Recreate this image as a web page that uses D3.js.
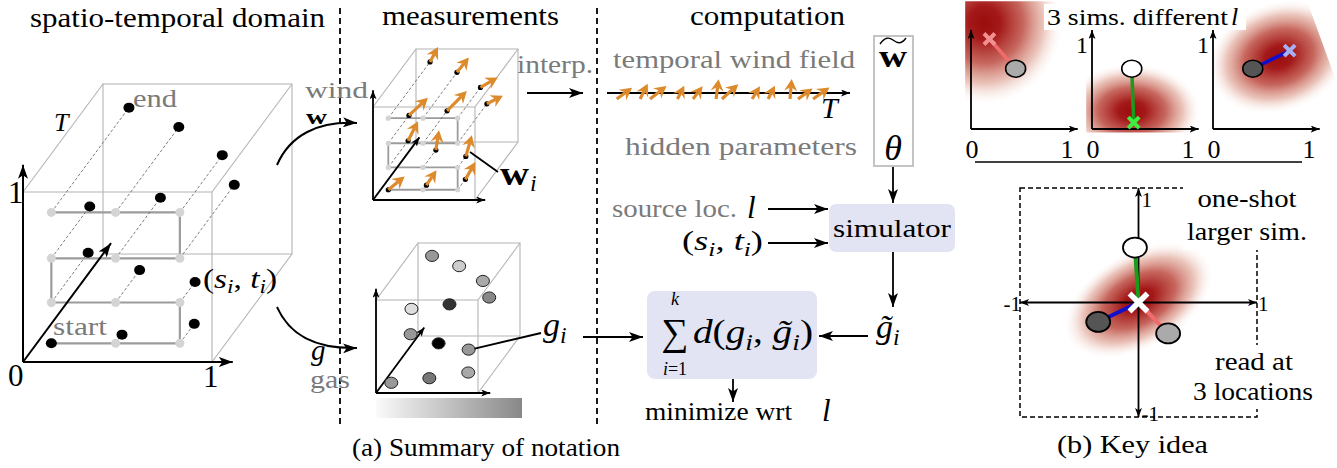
<!DOCTYPE html>
<html>
<head>
<meta charset="utf-8">
<script src="https://cdn.jsdelivr.net/npm/d3@7"></script>
<style>body{margin:0;background:#fff}svg{display:block}</style>
</head>
<body>
<script>
// measurements along the snake path: position in the unit cube (x, z) and time t
const measX = [0.15, 0.49, 0.83, 0.83, 0.49, 0.15, 0.15, 0.49, 0.83, 0.83, 0.49, 0.15];
const measZ = [0.11, 0.11, 0.11, 0.35, 0.35, 0.35, 0.61, 0.61, 0.61, 0.88, 0.88, 0.88];
const measT = [0, 0.08, 0.18, 0.19, 0.30, 0.46, 0.48, 0.56, 0.68, 0.53, 0.79, 0.97];
const gasLevel = [0.36, 0.5, 0.29, 0.36, 1, 0.36, 0.07, 0.79, 0.43, 0.29, 0.14, 0.36];
const windAngle = [39, 56, 60, 74, 81, 63, 43, 45, 27, 30, 51, 62];
const windLen = [21, 18, 20, 22, 20, 22, 26, 28, 18, 20, 19, 17];

// interpolated temporal wind field
const fieldT = [0.04, 0.136, 0.177, 0.29, 0.354, 0.449, 0.473, 0.597, 0.663, 0.753, 0.786, 0.848];
const fieldAngle = [36, 63, 38, 63, 53, 83, 42, 58, 63, 85, 36, 35];
const fieldLen = [19, 17, 21, 15, 16, 20, 22, 15, 15, 20, 18, 20];

// key idea: 3 small sims (source l, sensor) and the one-shot large sim
const simSrc = [[0.19, 1.0], [0.43, 0.07], [0.79, 0.87]];
const simObs = [[0.46, 0.67], [0.41, 0.67], [0.41, 0.67]];
const plumeC = [[0.14, 1.18], [0.41, 0.2], [0.68, 0.8]];
const plumeR = [[0.8, 0.9], [0.7, 0.52], [0.74, 0.6]];
const plumeAngle = [0, 0, -20];
const obsRel = [[0.25, -0.27], [-0.03, 0.48], [-0.34, -0.17]];
const bigPlume = {c: [0, 0.02], r: [0.68, 0.4], angle: -30};

const obsFill = ["#aaaaaa", "#ffffff", "#555555"];
const lineCol = ["#f06c6c", "#1a9c1a", "#1010cc"];
const crossCol = ["#f29090", "#40ee40", "#a8b0f2"];

const serif = "'Liberation Serif', serif";
const grey = "#7a7a7a";
const orange = "#dd8a2c";
const lav = "#e2e4f4";

const svg = d3.select("body").append("svg").attr("width", 1337).attr("height", 468);
const defs = svg.append("defs");

function marker(id, len, wid) {
  defs.append("marker").attr("id", id)
    .attr("viewBox", `0 0 ${len} ${wid}`).attr("refX", len).attr("refY", wid / 2)
    .attr("markerWidth", len).attr("markerHeight", wid)
    .attr("markerUnits", "userSpaceOnUse").attr("orient", "auto-start-reverse")
    .append("path").attr("d", `M0,0L${len},${wid / 2}L0,${wid}L${len * 0.25},${wid / 2}Z`).attr("fill", "#000");
}
marker("ah", 14, 10);
marker("ahs", 9, 7);

// plume gradient
const rg = defs.append("radialGradient").attr("id", "plume");
[[0, "#990d0d", 1], [0.2, "#a31818", 1], [0.5, "#bf5248", 0.88], [0.75, "#dc9a8a", 0.6], [1, "#f8e8e0", 0]]
  .forEach(s => rg.append("stop").attr("offset", s[0]).attr("stop-color", s[1]).attr("stop-opacity", s[2]));
const lg = defs.append("linearGradient").attr("id", "gasbar");
lg.append("stop").attr("offset", 0).attr("stop-color", "#fafafa");
lg.append("stop").attr("offset", 1).attr("stop-color", "#888888");

function arrow(g, pts, m = "ah", w = 1.8, both = false) {
  const p = g.append("path").attr("d", d3.line()(pts)).attr("fill", "none")
    .attr("stroke", "#000").attr("stroke-width", w).attr("marker-end", `url(#${m})`);
  if (both) p.attr("marker-start", `url(#${m})`);
  return p;
}

function txt(g, s, x, y, o = {}) {
  const t = g.append("text").attr("x", x).attr("y", y).text(s)
    .attr("font-family", o.family || serif).attr("font-size", o.size || 25)
    .attr("fill", o.fill || "#000").attr("text-anchor", o.anchor || "start");
  if (o.italic) t.attr("font-style", "italic");
  if (o.bold) t.attr("font-weight", "bold");
  if (o.w) t.attr("textLength", o.w).attr("lengthAdjust", "spacingAndGlyphs");
  return t;
}

// label with italic letters and subscripts; parts: [text, italic, sub]
function mathTxt(g, parts, x, y, size, o = {}) {
  const t = g.append("text").attr("x", x).attr("y", y).attr("font-family", serif)
    .attr("font-size", size).attr("text-anchor", o.anchor || "start");
  let down = false;
  parts.forEach(([s, it, sub]) => {
    const sp = t.append("tspan").text(s);
    if (it) sp.attr("font-style", "italic");
    if (sub && !down) { sp.attr("font-size", size * 0.7).attr("dy", size * 0.2); down = true; }
    else if (sub) sp.attr("font-size", size * 0.7);
    else if (down) { sp.attr("dy", -size * 0.2); down = false; }
  });
  if (o.w) t.attr("textLength", o.w).attr("lengthAdjust", "spacingAndGlyphs");
  return t;
}

function windArrow(g, x, y, ang, len) {
  const a = ang * Math.PI / 180, ux = Math.cos(a), uy = -Math.sin(a), nx = -uy, ny = ux;
  const tx = x + len * ux, ty = y + len * uy, h = 12, hw = 6.5;
  const bx = tx - h * ux, by = ty - h * uy, kx = tx - (h - 4) * ux, ky = ty - (h - 4) * uy;
  g.append("path").attr("d", `M${x},${y}L${kx},${ky}`).attr("stroke", orange).attr("stroke-width", 3.2);
  g.append("path").attr("d", `M${tx},${ty}L${bx + hw * nx},${by + hw * ny}L${kx},${ky}L${bx - hw * nx},${by - hw * ny}Z`)
    .attr("fill", orange);
}

function cube(g, c) {
  const X = d3.scaleLinear([0, 1], [c.x0, c.x0 + c.w]);
  const Z = d3.scaleLinear([0, 1], [c.y0, c.y0 - c.h]);
  const P = (x, z, t) => [X(x) + t * c.dx, Z(z) + t * c.dy];
  const sq = t => [P(0, 0, t), P(1, 0, t), P(1, 1, t), P(0, 1, t), P(0, 0, t)];
  const e = g.append("g").attr("fill", "none").attr("stroke", "#b4b4b4").attr("stroke-width", 1.1);
  e.append("path").attr("d", d3.line()(sq(1)));
  e.append("path").attr("d", d3.line()(sq(0)));
  [[0, 0], [1, 0], [1, 1], [0, 1]].forEach(([x, z]) => e.append("path").attr("d", d3.line()([P(x, z, 0), P(x, z, 1)])));
  return P;
}
function cubeAxes(g, P, ax, m, w) {
  arrow(g, [P(0, 0, 0), P(ax[0], 0, 0)], m, w);
  arrow(g, [P(0, 0, 0), P(0, ax[1], 0)], m, w);
  arrow(g, [P(0, 0, 0), P(0, 0, ax[2])], m, w);
}
const idx = d3.range(measX.length);
function snake(g, P, lw, r) {
  g.append("path").attr("d", d3.line()(idx.map(i => P(measX[i], measZ[i], 0))))
    .attr("fill", "none").attr("stroke", "#9c9c9c").attr("stroke-width", lw);
  g.selectAll(null).data(idx).join("path")
    .attr("d", i => d3.line()([P(measX[i], measZ[i], 0), P(measX[i], measZ[i], measT[i])]))
    .attr("stroke", "#707070").attr("stroke-width", 0.9).attr("stroke-dasharray", "3,2");
  g.selectAll(null).data(idx).join("circle")
    .attr("cx", i => P(measX[i], measZ[i], 0)[0]).attr("cy", i => P(measX[i], measZ[i], 0)[1])
    .attr("r", r).attr("fill", "#d4d4d4");
}

// ---------- separators ----------
[340, 597].forEach(x => svg.append("line").attr("x1", x).attr("x2", x).attr("y1", 8).attr("y2", 425)
  .attr("stroke", "#000").attr("stroke-width", 1.8).attr("stroke-dasharray", "6,4"));

// ---------- panel 1: spatio-temporal domain ----------
const g1 = svg.append("g");
txt(g1, "spatio-temporal domain", 30, 27, {size: 27, w: 295});
const P1 = cube(g1, {x0: 23, y0: 362, w: 189, h: 170, dx: 80, dy: -108});
snake(g1, P1, 2.2, 4.5);
cubeAxes(g1, P1, [1.11, 1.16, 1.1], "ah", 2);
g1.selectAll(null).data(idx).join("ellipse")
  .attr("cx", i => P1(measX[i], measZ[i], measT[i])[0]).attr("cy", i => P1(measX[i], measZ[i], measT[i])[1])
  .attr("rx", 5.5).attr("ry", 5).attr("fill", "#000");
txt(g1, "end", 133, 107, {fill: grey, w: 44});
txt(g1, "start", 53, 335, {fill: grey, w: 54});
txt(g1, "T", 54, 131, {size: 26, italic: true});
txt(g1, "1", 8, 203, {size: 31});
txt(g1, "0", 8, 386, {size: 31});
txt(g1, "1", 203, 387, {size: 31});
mathTxt(g1, [["("], ["s", 1], ["i", 1, 1], [", "], ["t", 1], ["i", 1, 1], [")"]], 203, 288, 27, {w: 74});

// curved arrows into measurements
[[[277, 165], [290, 135], [318, 121], [357, 123]], [[277, 307], [290, 336], [316, 349], [357, 348]]].forEach(c => {
  svg.append("path").attr("d", `M${c[0]}C${c[1]} ${c[2]} ${c[3]}`).attr("fill", "none")
    .attr("stroke", "#000").attr("stroke-width", 2).attr("marker-end", "url(#ah)");
});
txt(svg, "wind", 305, 98, {fill: grey, size: 24, w: 63});
txt(svg, "w", 306, 124, {bold: true, size: 22, w: 21});
txt(svg, "g", 311, 360, {italic: true, size: 29});
txt(svg, "gas", 310, 388, {fill: grey, w: 40});

// ---------- panel 2: measurements ----------
const g2 = svg.append("g");
txt(g2, "measurements", 382, 25, {size: 27, w: 177});
const P2 = cube(g2, {x0: 373, y0: 200, w: 102, h: 93, dx: 43, dy: -58});
snake(g2, P2, 1.8, 2.6);
cubeAxes(g2, P2, [1.1, 1.18, 1.08], "ahs", 1.8);
idx.forEach(i => {
  const [x, y] = P2(measX[i], measZ[i], measT[i]);
  g2.append("circle").attr("cx", x).attr("cy", y).attr("r", 2.6).attr("fill", "#000");
  windArrow(g2, x, y, windAngle[i], windLen[i]);
});
g2.append("line").attr("x1", 470).attr("y1", 152).attr("x2", 498).attr("y2", 172).attr("stroke", "#000").attr("stroke-width", 1.8);
txt(g2, "w", 500, 185, {bold: true, size: 34, w: 29});
txt(g2, "i", 530, 191, {italic: true, size: 24});
txt(g2, "interp.", 517, 73, {fill: grey, w: 76});
arrow(g2, [[527, 93], [583, 93]]);

const P3 = cube(g2, {x0: 376, y0: 393, w: 102, h: 93, dx: 42, dy: -57});
cubeAxes(g2, P3, [1.12, 1.12, 1.15], "ahs", 1.8);
const gasColor = d3.scaleLinear([0, 1], ["#eeeeee", "#000000"]);
g2.selectAll(null).data(idx).join("ellipse")
  .attr("cx", i => P3(measX[i], measZ[i], measT[i])[0]).attr("cy", i => P3(measX[i], measZ[i], measT[i])[1])
  .attr("rx", 6.5).attr("ry", 5.6).attr("fill", i => gasColor(gasLevel[i]))
  .attr("stroke", "#222").attr("stroke-width", 1);
g2.append("rect").attr("x", 376).attr("y", 398).attr("width", 146).attr("height", 20).attr("fill", "url(#gasbar)");
const gi = P3(measX[3], measZ[3], measT[3]);
g2.append("line").attr("x1", gi[0] + 6).attr("y1", gi[1] - 1).attr("x2", 541).attr("y2", 333).attr("stroke", "#000").attr("stroke-width", 1.8);
mathTxt(g2, [["g", 1], ["i", 1, 1]], 543, 336, 34);
arrow(g2, [[583, 337], [643, 337]]);

// ---------- panel 3: computation ----------
const g3 = svg.append("g");
txt(g3, "computation", 690, 25, {size: 27, w: 155});
txt(g3, "temporal wind field", 613, 68, {fill: grey, w: 242});
const tS = d3.scaleLinear([0, 1], [607, 850]);
arrow(g3, [[tS(0), 93], [tS(1), 93]], "ahs", 1.8);
fieldT.forEach((t, i) => windArrow(g3, tS(t), 99, fieldAngle[i], fieldLen[i]));
txt(g3, "T", 821, 118, {italic: true, size: 30});
txt(g3, "hidden parameters", 625, 155, {fill: grey, w: 232});
g3.append("rect").attr("x", 874).attr("y", 36).attr("width", 39).attr("height", 130)
  .attr("fill", "none").attr("stroke", "#c4c4c4").attr("stroke-width", 2);
txt(g3, "w", 893, 67, {bold: true, size: 32, anchor: "middle", w: 28});
g3.append("path").attr("d", "M880,44C885,37 889,37 893,40S901,45 906,38").attr("fill", "none").attr("stroke", "#000").attr("stroke-width", 1.4);
txt(g3, "θ", 893, 160, {italic: true, size: 36, anchor: "middle"});
arrow(g3, [[893, 167], [893, 203]]);
txt(g3, "source loc.", 612, 217, {fill: grey, w: 125});
txt(g3, "l", 747, 218, {italic: true, size: 31});
arrow(g3, [[768, 209], [828, 209]]);
mathTxt(g3, [["("], ["s", 1], ["i", 1, 1], [", "], ["t", 1], ["i", 1, 1], [")"]], 682, 250, 28, {w: 81});
arrow(g3, [[768, 243], [828, 243]]);
g3.append("rect").attr("x", 829).attr("y", 204).attr("width", 126).attr("height", 48).attr("rx", 7).attr("fill", lav);
txt(g3, "simulator", 892, 237, {anchor: "middle", w: 118});
arrow(g3, [[893, 252], [893, 307]]);
mathTxt(g3, [["g\u0303", 1], ["i", 1, 1]], 876, 338, 34);
arrow(g3, [[868, 336], [819, 336]]);
g3.append("rect").attr("x", 647).attr("y", 291).attr("width", 170).attr("height", 88).attr("rx", 8).attr("fill", lav);
txt(g3, "∑", 675, 345, {size: 38, anchor: "middle"});
txt(g3, "k", 675, 305, {size: 18, italic: true, anchor: "middle"});
mathTxt(g3, [["i", 1], ["=1"]], 675, 375, 18, {anchor: "middle"});
mathTxt(g3, [["d", 1], ["("], ["g", 1], ["i", 1, 1], [", "], ["g\u0303", 1], ["i", 1, 1], [")"]], 693, 343, 33, {w: 120});
arrow(g3, [[733, 379], [733, 402]]);
txt(g3, "minimize wrt", 645, 420, {w: 147});
txt(g3, "l", 822, 421, {italic: true, size: 31});

txt(svg, "(a) Summary of notation", 352, 456, {size: 26, w: 268});
txt(svg, "(b) Key idea", 1057, 453, {size: 26, w: 151});

// ---------- panel b: key idea ----------
const g4 = svg.append("g");
const ox = [971, 1092, 1213];
function cross(g, x, y, s, col, w) {
  g.append("path").attr("d", `M${x - s},${y - s}L${x + s},${y + s}M${x - s},${y + s}L${x + s},${y - s}`)
    .attr("stroke", col).attr("stroke-width", w);
}
ox.forEach((o, k) => {
  const x = d3.scaleLinear([0, 1], [o, o + 97]);
  const y = d3.scaleLinear([0, 1], [129, 39]);
  const g = g4.append("g");
  defs.append("clipPath").attr("id", "clip" + k).append("rect")
    .attr("x", x(-0.06)).attr("y", y(1.42)).attr("width", x(1.15) - x(-0.06)).attr("height", y(-0.04) - y(1.42));
  const [cx, cy] = [x(plumeC[k][0]), y(plumeC[k][1])];
  g.append("ellipse").attr("clip-path", `url(#clip${k})`)
    .attr("cx", cx).attr("cy", cy)
    .attr("rx", x(plumeR[k][0]) - x(0)).attr("ry", y(0) - y(plumeR[k][1]))
    .attr("transform", `rotate(${plumeAngle[k]},${cx},${cy})`).attr("fill", "url(#plume)");
  arrow(g, [[x(0), y(0)], [x(1.1), y(0)]], "ahs", 1.8);
  arrow(g, [[x(0), y(0)], [x(0), y(1.1)]], "ahs", 1.8);
  const s = [x(simSrc[k][0]), y(simSrc[k][1])], b = [x(simObs[k][0]), y(simObs[k][1])];
  g.append("line").attr("x1", s[0]).attr("y1", s[1]).attr("x2", b[0]).attr("y2", b[1]).attr("stroke", lineCol[k]).attr("stroke-width", 3.5);
  cross(g, s[0], s[1], 5.5, crossCol[k], 4);
  g.append("ellipse").attr("cx", b[0]).attr("cy", b[1]).attr("rx", 10).attr("ry", 8.5)
    .attr("fill", obsFill[k]).attr("stroke", "#000").attr("stroke-width", 1.6);
  txt(g, "0", x(0) + 1, 158, {size: 26, anchor: "middle"});
  txt(g, "1", x(1) - 1, 158, {size: 26, anchor: "middle"});
  if (k > 0) txt(g, "1", x(0) - 10, y(1) + 14, {size: 24, anchor: "middle"});
});
g4.append("rect").attr("x", 1044).attr("y", 4).attr("width", 202).attr("height", 26).attr("fill", "#fff");
txt(g4, "3 sims. different", 1047, 25, {size: 24, w: 181});
txt(g4, "l", 1231, 25, {italic: true, size: 26});
g4.append("line").attr("x1", 975).attr("x2", 1302).attr("y1", 162).attr("y2", 162).attr("stroke", "#000").attr("stroke-width", 1.6);

const bx = d3.scaleLinear([-1, 1], [1020, 1257]);
const by = d3.scaleLinear([-1, 1], [417, 188]);
g4.append("rect").attr("x", bx(-1)).attr("y", by(1)).attr("width", bx(1) - bx(-1)).attr("height", by(-1) - by(1))
  .attr("fill", "none").attr("stroke", "#000").attr("stroke-width", 1.5).attr("stroke-dasharray", "5,3");
const bc = [bx(bigPlume.c[0]), by(bigPlume.c[1])];
g4.append("ellipse").attr("cx", bc[0]).attr("cy", bc[1])
  .attr("rx", bx(bigPlume.r[0]) - bx(0)).attr("ry", bx(bigPlume.r[1]) - bx(0))
  .attr("transform", `rotate(${bigPlume.angle},${bc[0]},${bc[1]})`).attr("fill", "url(#plume)");
arrow(g4, [[bx(-1), by(0)], [bx(1), by(0)]], "ahs", 1.8, true);
arrow(g4, [[bx(0), by(-1)], [bx(0), by(1)]], "ahs", 1.8, true);
obsRel.forEach((p, k) => {
  g4.append("line").attr("x1", bx(0)).attr("y1", by(0)).attr("x2", bx(p[0])).attr("y2", by(p[1]))
    .attr("stroke", lineCol[k]).attr("stroke-width", 4);
});
obsRel.forEach((p, k) => {
  g4.append("ellipse").attr("cx", bx(p[0])).attr("cy", by(p[1])).attr("rx", 12).attr("ry", 10)
    .attr("fill", obsFill[k]).attr("stroke", "#000").attr("stroke-width", 1.8);
});
cross(g4, bx(0), by(0), 9, "#fff", 5.5);
txt(g4, "1", bx(0) + 3, 207, {size: 21});
txt(g4, "-1", bx(-1) + 1, 311, {size: 21, anchor: "end"});
txt(g4, "1", bx(1) + 1, 311, {size: 21});
txt(g4, "-1", bx(0) + 3, 421, {size: 21});
g4.append("rect").attr("x", 1183).attr("y", 180).attr("width", 140).attr("height", 70).attr("fill", "#fff");
g4.append("rect").attr("x", 1190).attr("y", 345).attr("width", 130).attr("height", 64).attr("fill", "#fff");
txt(g4, "one-shot", 1247, 207, {anchor: "middle", w: 99});
txt(g4, "larger sim.", 1247, 240, {anchor: "middle", w: 120});
txt(g4, "read at", 1254, 370, {anchor: "middle", w: 78});
txt(g4, "3 locations", 1253, 400, {anchor: "middle", w: 120});
</script>
</body>
</html>
